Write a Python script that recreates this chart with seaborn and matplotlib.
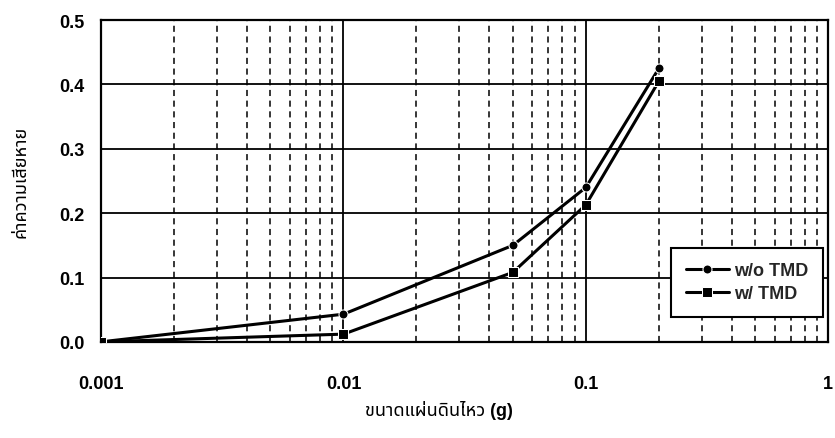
import matplotlib
matplotlib.use("Agg")
import matplotlib.pyplot as plt
import seaborn as sns
import pandas as pd
import numpy as np
from matplotlib.ticker import FixedLocator, FixedFormatter, LogLocator, NullFormatter

pga = [0.001, 0.01, 0.05, 0.1, 0.2]
wo_tmd = [0.0, 0.043, 0.150, 0.240, 0.425]
w_tmd = [0.0, 0.012, 0.108, 0.213, 0.405]
series_names = ["w/o TMD", "w/ TMD"]
xtick_vals = [0.001, 0.01, 0.1, 1]
xtick_labels = ["0.001", "0.01", "0.1", "1"]
ytick_vals = [0.0, 0.1, 0.2, 0.3, 0.4, 0.5]
ytick_labels = ["0.0", "0.1", "0.2", "0.3", "0.4", "0.5"]

df = pd.DataFrame({
    "pga": pga * 2,
    "damage": wo_tmd + w_tmd,
    "series": [series_names[0]] * len(pga) + [series_names[1]] * len(pga),
})

sns.set_theme(style="white")
plt.rcParams['font.family'] = ['Liberation Sans', 'Noto Sans Thai', 'Loma', 'Garuda', 'Tlwg Typo', 'Noto Sans', 'DejaVu Sans']

fig = plt.figure(figsize=(8.35, 4.39), dpi=100)
ax = fig.add_axes([0.121, 0.219, 0.871, 0.733])

sns.lineplot(data=df, x="pga", y="damage", hue="series", style="series",
             markers={"w/o TMD": "o", "w/ TMD": "s"}, dashes=False,
             palette={"w/o TMD": "black", "w/ TMD": "black"},
             linewidth=2.2, markersize=6.5, ax=ax, zorder=5)

ax.set_xscale("log")
ax.set_xlim(0.001, 1)
ax.set_ylim(0, 0.5)
ax.xaxis.set_major_locator(FixedLocator(xtick_vals))
ax.xaxis.set_major_formatter(FixedFormatter(xtick_labels))
ax.xaxis.set_minor_locator(LogLocator(base=10, subs=np.arange(2, 10)))
ax.xaxis.set_minor_formatter(NullFormatter())
ax.yaxis.set_major_locator(FixedLocator(ytick_vals))
ax.yaxis.set_major_formatter(FixedFormatter(ytick_labels))

ax.grid(which="major", axis="both", color="black", linestyle="-", linewidth=1.3)
ax.grid(which="minor", axis="x", color="black", linestyle=(0, (4, 3)), linewidth=1.1)
ax.set_axisbelow(True)
for s in ax.spines.values():
    s.set_color("black")
    s.set_linewidth(1.6)

ax.tick_params(axis="x", which="major", direction="out", length=6, width=1.3, pad=18,
               labelsize=13, colors="black")
ax.tick_params(axis="x", which="minor", length=0)
ax.tick_params(axis="y", which="major", direction="out", length=5, width=1.3, pad=7,
               labelsize=13, colors="black")
for lab in ax.get_xticklabels() + ax.get_yticklabels():
    lab.set_fontweight("bold")

ax.set_xlabel("ขนาดแผ่นดินไหว (g)", fontsize=13, fontweight="bold", color="black")
ax.set_ylabel("ค่าความเสียหาย", fontsize=13, fontweight="bold", color="black")
ax.xaxis.set_label_coords(0.465, -0.18)
ax.yaxis.set_label_coords(-0.098, 0.5)

leg = ax.legend(title=None, loc="lower right", bbox_to_anchor=(0.993, 0.078),
                borderaxespad=0, frameon=True, fancybox=False, fontsize=13,
                handlelength=2.4, borderpad=0.8, labelspacing=0.35, handletextpad=0.3)
leg.get_frame().set_edgecolor("black")
leg.get_frame().set_linewidth(1.5)
leg.get_frame().set_alpha(1)
for t in leg.get_texts():
    t.set_fontweight("bold")

fig.savefig("out.png", dpi=100)
